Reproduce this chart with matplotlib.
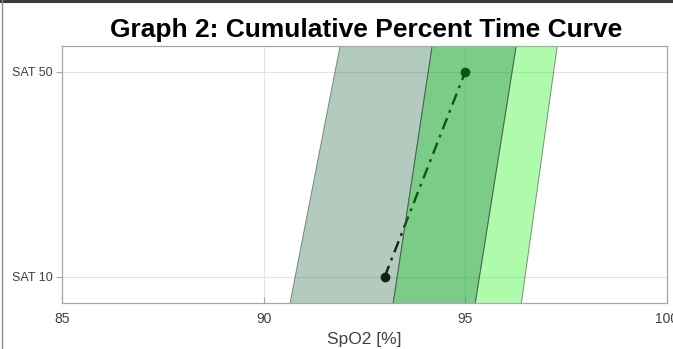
import matplotlib
matplotlib.use("Agg")
import matplotlib.pyplot as plt
import numpy as np
from matplotlib.lines import Line2D

plt.rcParams['font.family'] = ['Liberation Sans', 'DejaVu Sans']

# Data
sat_levels = [10, 50]
sat_labels = ['SAT 10', 'SAT 50']
edges_sat10 = [90.78, 93.31, 95.35, 96.48]
edges_sat50 = [91.77, 94.08, 96.16, 97.19]
band_colors = ['#266a48', '#0fa225', '#18f60f']
band_alphas = [0.35, 0.55, 0.35]
cpt_x = [93.0, 95.0]
cpt_y = [10, 50]
xticks = [85, 90, 95, 100]

fig = plt.figure(figsize=(6.73, 3.49), dpi=100)
ax = fig.add_axes([62/673, 1-302.5/349, (667-62)/673, (302.5-46)/349])
ylim = (5, 55)
ax.set_xlim(85, 100)
ax.set_ylim(*ylim)

def edge_x(i, y):
    x10, x50 = edges_sat10[i], edges_sat50[i]
    return x10 + (x50 - x10) * (y - sat_levels[0]) / (sat_levels[1] - sat_levels[0])

y0, y1 = ylim[0] - 1, ylim[1] + 1
for i in range(3):
    xs = [edge_x(i, y0), edge_x(i + 1, y0), edge_x(i + 1, y1), edge_x(i, y1)]
    ys = [y0, y0, y1, y1]
    ax.fill(xs, ys, facecolor=band_colors[i], alpha=band_alphas[i], zorder=3,
            edgecolor='none')
    for j in (i, i + 1):
        ax.plot([edge_x(j, y0), edge_x(j, y1)], [y0, y1], color='#3a4a40',
                lw=0.7, alpha=0.6, zorder=4)

ax.plot(cpt_x, cpt_y, color='black', lw=1.7, ls=(0, (5, 2.5, 1.2, 2.5)),
        marker='o', markersize=6, zorder=2)

ax.set_xticks(xticks)
ax.set_xticklabels([str(t) for t in xticks])
ax.set_yticks(sat_levels)
ax.set_yticklabels(sat_labels)
ax.grid(True, color='#e4e4e4', lw=0.8, zorder=0)
ax.set_axisbelow(True)
for s in ax.spines.values():
    s.set_color('#a8a8a8')
    s.set_linewidth(0.9)
    s.set_zorder(5)
ax.tick_params(axis='x', direction='in', length=4, color='#a8a8a8',
               labelsize=10, labelcolor='#404040', pad=7)
ax.tick_params(axis='y', direction='out', length=4, color='#a8a8a8',
               labelsize=9, labelcolor='#404040', pad=3)
ax.set_xlabel('SpO2 [%]', fontsize=12.5, color='#404040', labelpad=4)
fig.text(366/673, 1-30/349, 'Graph 2: Cumulative Percent Time Curve',
         ha='center', va='center', fontsize=19, fontweight='bold', color='black')

# screenshot frame
fig.add_artist(Line2D([0, 1], [1-1/349, 1-1/349], transform=fig.transFigure,
                      color='#3c3c3c', lw=2.2))
fig.add_artist(Line2D([1.5/673, 1.5/673], [0, 1], transform=fig.transFigure,
                      color='#8a8a8a', lw=1.0))

fig.savefig('out.png', dpi=100)
